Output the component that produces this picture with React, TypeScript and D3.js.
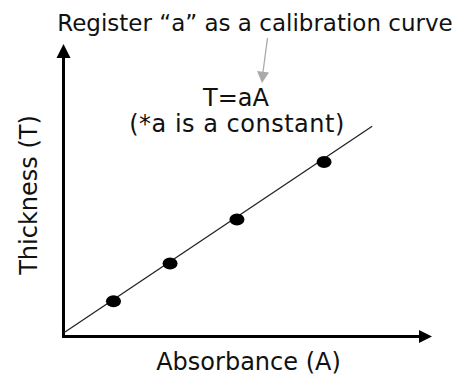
import React from "react";
import * as d3 from "d3";

const absorbance = [1.36, 2.9, 4.72, 7.09];
const thickness = [1.1, 2.41, 3.94, 5.94];
const fitLine = [
  { a: 0, t: 0 },
  { a: 8.4, t: 7.18 },
];
const title = "Register \u201ca\u201d as a calibration curve";
const equation = "T=aA";
const note = "(*a is a constant)";
const xLabel = "Absorbance (A)";
const yLabel = "Thickness (T)";

const W = 474;
const H = 376;
const FONT = "'DejaVu Sans', Verdana, sans-serif";

export default function App() {
  const x = d3.scaleLinear().domain([0, 10]).range([63.5, 431]);
  const y = d3.scaleLinear().domain([0, 10]).range([333, 45]);
  const line = d3
    .line<{ a: number; t: number }>()
    .x((d) => x(d.a))
    .y((d) => y(d.t));

  const x0 = x(0);
  const y0 = y(0);
  const axisY = y0 + 3.5;

  return (
    <svg
      width={W}
      height={H}
      style={{ position: "absolute", left: 0, top: 0, background: "#fff" }}
      fontFamily={FONT}
    >
      {/* title */}
      <text x={255} y={31} fontSize={23} textAnchor="middle" fill="#111">
        {title}
      </text>
      {/* gray arrow */}
      <line x1={267.5} y1={38} x2={263} y2={72} stroke="#aaa" strokeWidth={1.3} />
      <path d="M257,71 L269,72.5 L262,83 Z" fill="#aaa" />
      {/* equation */}
      <text x={236} y={106} fontSize={24} textAnchor="middle" fill="#111">
        {equation}
      </text>
      <text x={237} y={132} fontSize={24} letterSpacing={0.5} textAnchor="middle" fill="#111">
        {note}
      </text>

      {/* y axis */}
      <line x1={x0} y1={axisY + 1.5} x2={x0} y2={56} stroke="#000" strokeWidth={3} />
      <path d={`M${x0 - 7},58 L${x0 + 7},58 L${x0},44 Z`} fill="#000" />
      {/* x axis */}
      <line x1={x0 - 1.5} y1={axisY} x2={421} y2={axisY} stroke="#000" strokeWidth={3} />
      <path d={`M419,${axisY - 6.5} L419,${axisY + 6.5} L432,${axisY} Z`} fill="#000" />

      {/* fit line */}
      <path d={line(fitLine) || ""} stroke="#222" strokeWidth={1.3} fill="none" />

      {/* points */}
      {absorbance.map((a, i) => (
        <ellipse key={i} cx={x(a)} cy={y(thickness[i])} rx={7.5} ry={6} fill="#000" />
      ))}

      {/* axis labels */}
      <text x={248.5} y={370} fontSize={24} textAnchor="middle" fill="#111">
        {xLabel}
      </text>
      <text
        transform={`translate(37,195) rotate(-90)`}
        fontSize={24}
        textAnchor="middle"
        fill="#111"
      >
        {yLabel}
      </text>
    </svg>
  );
}
